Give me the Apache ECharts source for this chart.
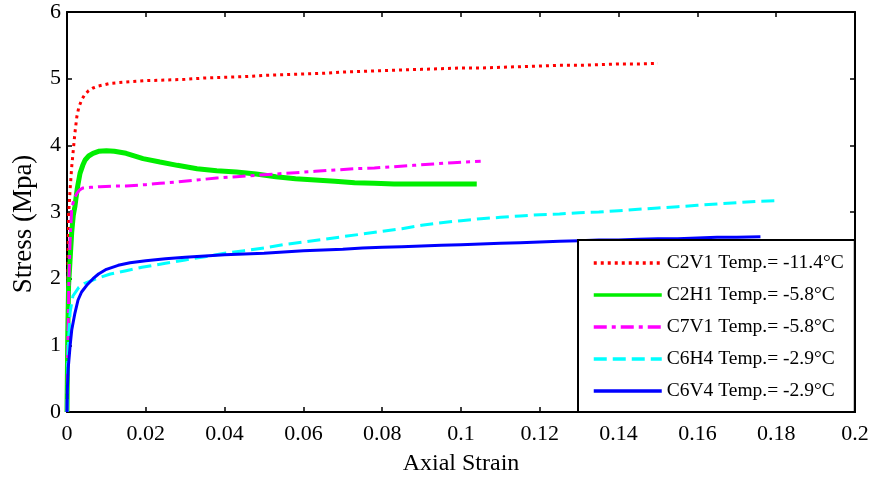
<!DOCTYPE html>
<html>
<head>
<meta charset="utf-8">
<script src="https://cdn.jsdelivr.net/npm/echarts@6/dist/echarts.min.js"></script>
<style>
  html, body { margin: 0; padding: 0; background: #fff; }
  #chart { width: 874px; height: 481px; }
</style>
</head>
<body>
<div id="chart"></div>
<script>
// Stress-strain curves of frozen specimens at different temperatures
const seriesNames = [
  'C2V1 Temp.= -11.4°C',
  'C2H1 Temp.= -5.8°C',
  'C7V1 Temp.= -5.8°C',
  'C6H4 Temp.= -2.9°C',
  'C6V4 Temp.= -2.9°C'
];

const xTicks = [0, 0.02, 0.04, 0.06, 0.08, 0.1, 0.12, 0.14, 0.16, 0.18, 0.2];
const yTicks = [0, 1, 2, 3, 4, 5, 6];

const c2v1Strain = [0, 0.0002, 0.0004, 0.0008, 0.0012, 0.0016, 0.002, 0.0025, 0.003, 0.0037, 0.0045, 0.0055, 0.0066, 0.008, 0.011, 0.015, 0.02, 0.025, 0.03, 0.035, 0.04, 0.045, 0.05, 0.055, 0.06, 0.065, 0.07, 0.075, 0.08, 0.085, 0.09, 0.095, 0.1, 0.105, 0.11, 0.115, 0.12, 0.125, 0.13, 0.135, 0.14, 0.145, 0.15];
const c2v1Stress = [0, 1.8, 2.95, 3.35, 3.68, 3.93, 4.18, 4.43, 4.57, 4.68, 4.76, 4.82, 4.86, 4.89, 4.93, 4.95, 4.97, 4.98, 4.99, 5.01, 5.02, 5.03, 5.05, 5.06, 5.07, 5.08, 5.1, 5.11, 5.12, 5.13, 5.14, 5.15, 5.16, 5.16, 5.17, 5.18, 5.19, 5.2, 5.2, 5.21, 5.22, 5.22, 5.23];

const c2h1Strain = [0, 0.0002, 0.0004, 0.0008, 0.0012, 0.0016, 0.002, 0.0026, 0.0033, 0.004, 0.0046, 0.0055, 0.0066, 0.008, 0.01, 0.012, 0.015, 0.0193, 0.0236, 0.028, 0.033, 0.038, 0.043, 0.048, 0.053, 0.058, 0.063, 0.068, 0.073, 0.078, 0.083, 0.088, 0.093, 0.098, 0.104];
const c2h1Stress = [0, 1.2, 1.9, 2.3, 2.7, 2.95, 3.08, 3.35, 3.58, 3.7, 3.78, 3.84, 3.88, 3.91, 3.92, 3.91, 3.88, 3.8, 3.75, 3.7, 3.65, 3.62, 3.6, 3.57, 3.53, 3.5, 3.48, 3.46, 3.44, 3.43, 3.42, 3.42, 3.42, 3.42, 3.42];

const c7v1Strain = [0, 0.0002, 0.0005, 0.0008, 0.0012, 0.0018, 0.0025, 0.0032, 0.004, 0.006, 0.0084, 0.012, 0.015, 0.02, 0.0236, 0.028, 0.033, 0.038, 0.043, 0.048, 0.053, 0.058, 0.063, 0.068, 0.073, 0.078, 0.083, 0.088, 0.093, 0.098, 0.105];
const c7v1Stress = [0, 1.0, 2.0, 2.6, 3.05, 3.2, 3.28, 3.33, 3.36, 3.37, 3.38, 3.39, 3.39, 3.41, 3.43, 3.45, 3.48, 3.51, 3.53, 3.55, 3.57, 3.59, 3.61, 3.63, 3.65, 3.66, 3.68, 3.7, 3.72, 3.74, 3.76];

const c6h4Strain = [0, 0.0002, 0.0004, 0.0008, 0.0015, 0.003, 0.0045, 0.0066, 0.009, 0.011, 0.015, 0.019, 0.025, 0.03, 0.035, 0.04, 0.045, 0.05, 0.055, 0.06, 0.065, 0.07, 0.075, 0.08, 0.085, 0.09, 0.095, 0.1, 0.105, 0.11, 0.115, 0.12, 0.125, 0.13, 0.135, 0.14, 0.145, 0.15, 0.155, 0.16, 0.165, 0.17, 0.175, 0.181];
const c6h4Stress = [0, 0.7, 1.1, 1.5, 1.74, 1.87, 1.93, 1.98, 2.03, 2.07, 2.12, 2.17, 2.23, 2.28, 2.33, 2.38, 2.42, 2.46, 2.51, 2.55, 2.59, 2.63, 2.67, 2.71, 2.75, 2.8, 2.84, 2.87, 2.9, 2.92, 2.94, 2.96, 2.97, 2.99, 3.0, 3.02, 3.04, 3.06, 3.08, 3.1, 3.12, 3.14, 3.16, 3.17];

const c6v4Strain = [0, 0.0001, 0.0003, 0.0008, 0.0012, 0.002, 0.0028, 0.0037, 0.005, 0.0066, 0.008, 0.01, 0.013, 0.016, 0.02, 0.025, 0.03, 0.035, 0.04, 0.045, 0.05, 0.055, 0.06, 0.065, 0.07, 0.075, 0.08, 0.085, 0.09, 0.095, 0.1, 0.105, 0.11, 0.115, 0.12, 0.125, 0.13, 0.135, 0.14, 0.145, 0.15, 0.155, 0.16, 0.165, 0.17, 0.176];
const c6v4Stress = [0, 0.35, 0.65, 1.0, 1.23, 1.48, 1.68, 1.8, 1.9, 2.0, 2.07, 2.14, 2.2, 2.24, 2.27, 2.3, 2.32, 2.34, 2.36, 2.37, 2.38, 2.4, 2.42, 2.43, 2.44, 2.46, 2.47, 2.48, 2.49, 2.5, 2.51, 2.52, 2.53, 2.54, 2.55, 2.56, 2.57, 2.58, 2.58, 2.59, 2.6, 2.6, 2.61, 2.62, 2.62, 2.63];

const pairs = (xs, ys) => xs.map((x, i) => [x, ys[i]]);
const FONT = "'Liberation Serif', 'Times New Roman', serif";

const lineStyles = [
  { color: '#ff0000', width: 3, type: [3, 4] },
  { color: '#00ee00', width: 5, type: 'solid' },
  { color: '#ff00ff', width: 3, type: [13, 5, 4, 5] },
  { color: '#00ffff', width: 3, type: [13, 6] },
  { color: '#0000ff', width: 3, type: 'solid' }
];
const dataSets = [
  pairs(c2v1Strain, c2v1Stress),
  pairs(c2h1Strain, c2h1Stress),
  pairs(c7v1Strain, c7v1Stress),
  pairs(c6h4Strain, c6h4Stress),
  pairs(c6v4Strain, c6v4Stress)
];

const frameAxis = {
  axisLine: { show: true, onZero: false, lineStyle: { color: '#000', width: 2 } },
  axisTick: { show: true, inside: true, length: 5, lineStyle: { color: '#000', width: 1.5 } },
  splitLine: { show: false }
};

const chart = echarts.init(document.getElementById('chart'), null, { renderer: 'canvas' });
chart.setOption({
  animation: false,
  backgroundColor: '#fff',
  grid: { left: 67, right: 19, top: 12, bottom: 69, containLabel: false },
  xAxis: [
    Object.assign({
      type: 'value', min: xTicks[0], max: xTicks[xTicks.length - 1], interval: xTicks[1] - xTicks[0],
      position: 'bottom',
      name: 'Axial Strain', nameLocation: 'middle', nameGap: 40,
      nameTextStyle: { fontFamily: FONT, fontSize: 24, color: '#000' },
      axisLabel: { fontFamily: FONT, fontSize: 22, color: '#000', margin: 11 }
    }, frameAxis),
    Object.assign({
      type: 'value', min: xTicks[0], max: xTicks[xTicks.length - 1], interval: xTicks[1] - xTicks[0],
      position: 'top', axisLabel: { show: false }
    }, frameAxis)
  ],
  yAxis: [
    Object.assign({
      type: 'value', min: yTicks[0], max: yTicks[yTicks.length - 1], interval: yTicks[1] - yTicks[0],
      position: 'left',
      name: 'Stress (Mpa)', nameLocation: 'middle', nameGap: 30,
      nameTextStyle: { fontFamily: FONT, fontSize: 27, color: '#000', padding: [0, 24, 0, 0] },
      axisLabel: { fontFamily: FONT, fontSize: 22, color: '#000', margin: 6 }
    }, frameAxis),
    Object.assign({
      type: 'value', min: yTicks[0], max: yTicks[yTicks.length - 1], interval: yTicks[1] - yTicks[0],
      position: 'right', axisLabel: { show: false }
    }, frameAxis)
  ],
  legend: {
    orient: 'vertical',
    left: 578, top: 240,
    padding: [13, 11, 11, 14],
    itemWidth: 68, itemHeight: 14, itemGap: 12,
    backgroundColor: '#fff',
    borderColor: '#000', borderWidth: 2,
    itemStyle: { opacity: 0 },
    lineStyle: { width: 3.5 },
    textStyle: { fontFamily: FONT, fontSize: 19.5, color: '#000', lineHeight: 20 },
    data: seriesNames,
    z: 10
  },
  series: seriesNames.map((name, i) => ({
    name: name,
    type: 'line',
    xAxisIndex: 0, yAxisIndex: 0,
    data: dataSets[i],
    showSymbol: false, symbol: 'none',
    lineStyle: lineStyles[i],
    itemStyle: { color: lineStyles[i].color },
    emphasis: { disabled: true }
  }))
});
</script>
</body>
</html>
